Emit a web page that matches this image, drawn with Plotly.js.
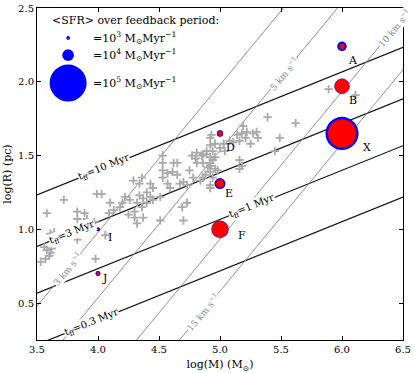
<!DOCTYPE html>
<html>
<head>
<meta charset="utf-8">
<script src="https://cdn.plot.ly/plotly-3.0.1.min.js"></script>
<style>html,body{margin:0;padding:0;background:#fff}#chart{width:415px;height:373px}</style>
</head>
<body>
<div id="chart"></div>
<script>
// clusters: log mass, log radius, SFR sizes (blue = over feedback period, red = other)
const names = ['A', 'B', 'X', 'D', 'E', 'F', 'I', 'J'];
const logM = [6.0, 6.0, 6.0, 5.0, 5.0, 5.0, 4.0, 4.0];
const logR = [2.24, 1.97, 1.65, 1.65, 1.31, 1.0, 1.0, 0.70];
const sfrFeedback = [6600, 12000, 80000, 3000, 8800, 18000, 1200, 1800];
const sfrRed = [2600, 16400, 61000, 2200, 5900, 21000, 460, 1170];
const labelDx = [11, 11, 25, 10, 9, 22, 12, 6];
const labelDy = [-14, -14, -14, -14, -10, -6, -8, -5];

// grey crosses (observed clusters)
const crossLogM = [3.56, 3.58, 3.61, 3.57, 3.60, 3.62, 3.64, 3.61, 3.58, 3.72, 3.83, 3.89, 3.83, 3.91, 3.91,
  3.95, 3.97, 3.99, 4.03, 4.09, 4.13, 4.18, 4.20, 4.22, 4.26, 4.32, 4.25, 4.30, 4.32, 3.83, 3.98, 4.06, 3.53,
  4.92, 4.81, 4.77, 4.85, 4.80, 4.89, 4.94, 4.96, 4.53, 4.62, 4.53, 4.57, 4.61, 4.65, 4.75, 4.78, 4.84, 4.86,
  4.81, 4.86, 4.92, 4.67, 4.70, 4.73, 4.92, 4.36, 4.34, 4.43, 4.45, 4.53, 4.57, 4.59, 4.40, 4.34, 4.37, 4.43,
  4.45, 4.40, 4.36, 4.51, 4.69, 4.73, 4.51, 4.37, 4.30, 5.39, 5.62, 5.49, 5.45, 5.30, 5.27, 5.31, 5.19, 5.22,
  5.18, 5.21, 5.14, 5.16, 5.11, 5.08, 5.25, 4.93, 4.96, 4.92, 4.89, 5.00, 5.04, 5.03, 4.86, 4.92, 5.16, 5.18,
  5.16, 4.94, 4.92, 4.90, 4.96, 4.92, 4.94, 4.88, 4.98, 4.92, 5.89, 6.11, 4.53, 4.65, 4.29, 4.10, 4.70];
const crossLogR = [0.88, 0.86, 0.84, 0.80, 0.82, 0.87, 0.98, 0.97, 1.11, 1.20, 1.12, 1.11, 1.07, 1.07, 1.04,
  1.01, 1.05, 1.24, 1.24, 1.11, 1.13, 1.15, 1.18, 1.22, 1.20, 1.18, 1.10, 1.08, 1.04, 0.93, 0.80, 0.96, 0.78,
  1.62, 1.52, 1.50, 1.50, 1.48, 1.51, 1.53, 1.49, 1.50, 1.45, 1.40, 1.38, 1.39, 1.37, 1.40, 1.35, 1.33, 1.35,
  1.45, 1.45, 1.43, 1.31, 1.32, 1.30, 1.28, 1.35, 1.31, 1.31, 1.28, 1.35, 1.31, 1.28, 1.25, 1.23, 1.21, 1.22,
  1.20, 1.18, 1.15, 1.22, 1.15, 1.18, 1.06, 1.08, 1.12, 1.76, 1.72, 1.62, 1.53, 1.66, 1.65, 1.62, 1.70, 1.66,
  1.65, 1.62, 1.64, 1.60, 1.59, 1.60, 1.58, 1.64, 1.58, 1.57, 1.53, 1.55, 1.53, 1.58, 1.51, 1.49, 1.47, 1.43,
  1.41, 1.47, 1.45, 1.42, 1.41, 1.39, 1.35, 1.37, 1.40, 1.30, 1.95, 1.91, 1.45, 1.45, 1.33, 1.18, 1.06];

// model lines
const tffMyr = [0.3, 1, 3, 10];
const tffLabels = ['0.3', '1', '3', '10'];
const tffLabelLogM = [3.95, 5.26, 3.79, 4.05];
const vKms = [3, 5, 10, 15];
const vLabelLogM = [3.75, 5.52, 6.43, 4.86];

// legend sizes
const legendSfr = [1e3, 1e4, 1e5];
const legendExp = ['3', '4', '5'];

const xr = [3.5, 6.5];
const sizeref = 146;
const serif = 'DejaVu Serif';

function rTff(m, t) { return m / 3 + (2 / 3) * Math.log10(t) - 0.6; }
function rVel(m, v) { return m - 2 * Math.log10(v) - 2.066; }

const traces = [];
const ann = [];

tffMyr.forEach(function (t, i) {
  traces.push({x: xr, y: xr.map(m => rTff(m, t)), mode: 'lines', line: {color: '#111', width: 1.2}, hoverinfo: 'skip'});
  ann.push({x: tffLabelLogM[i], y: rTff(tffLabelLogM[i], t), text: 't<sub>ff</sub>=' + tffLabels[i] + ' Myr',
    xanchor: 'center', yanchor: 'middle', showarrow: false, textangle: -22, bgcolor: 'white', borderpad: 0,
    font: {family: serif, size: 10, color: '#000'}});
});
vKms.forEach(function (v, i) {
  traces.push({x: xr, y: xr.map(m => rVel(m, v)), mode: 'lines', line: {color: '#888', width: 0.9}, hoverinfo: 'skip'});
  ann.push({x: vLabelLogM[i], y: rVel(vLabelLogM[i], v), text: v + ' km s<sup>−1</sup>',
    xanchor: 'center', yanchor: 'middle', showarrow: false, textangle: -50, bgcolor: 'white', borderpad: 0,
    font: {family: serif, size: 9, color: '#888'}});
});

traces.push({x: crossLogM, y: crossLogR, mode: 'markers', hoverinfo: 'skip',
  marker: {symbol: 'cross-thin', size: 6, line: {width: 1.8, color: '#aaaaaa'}}});

traces.push({x: logM, y: logR, mode: 'markers', hoverinfo: 'skip',
  marker: {color: '#0000ff', opacity: 1, size: sfrFeedback, sizemode: 'area', sizeref: sizeref, line: {width: 0}}});
traces.push({x: logM, y: logR, mode: 'markers', hoverinfo: 'skip',
  marker: {color: '#ff0000', opacity: 1, size: sfrRed, sizemode: 'area', sizeref: sizeref, line: {width: 0.5, color: '#0000ff'}}});

names.forEach(function (n, i) {
  ann.push({x: logM[i], y: logR[i], text: n, showarrow: false, xshift: labelDx[i], yshift: labelDy[i],
    font: {family: serif, size: 11, color: '#000'}});
});

// legend block on an overlay axis (0..1)
const legY = [0.91, 0.858, 0.774];
traces.push({x: legendSfr.map(() => 0.085), y: legY, xaxis: 'x2', yaxis: 'y2', mode: 'markers', hoverinfo: 'skip',
  marker: {color: '#0000ff', opacity: 1, size: legendSfr, sizemode: 'area', sizeref: sizeref, line: {width: 0}}});
ann.push({xref: 'x2', yref: 'y2', x: 0.036, y: 0.962, xanchor: 'left', text: '&lt;SFR&gt; over feedback period:',
  showarrow: false, font: {family: serif, size: 11, color: '#000'}});
legendExp.forEach(function (e, i) {
  ann.push({xref: 'x2', yref: 'y2', x: 0.148, y: legY[i], xanchor: 'left', showarrow: false,
    text: '=10<sup>' + e + '</sup> M<sub>⊙</sub>Myr<sup>−1</sup>', font: {family: serif, size: 11, color: '#000'}});
});

const axisBase = {showgrid: false, zeroline: false, showline: true, linecolor: '#000', linewidth: 1,
  mirror: 'ticks', ticks: 'inside', ticklen: 4, tickcolor: '#000', tickformat: '.1f',
  tickfont: {family: serif, size: 10, color: '#000'}};

const layout = {
  width: 415, height: 373,
  margin: {l: 37, r: 12, t: 8, b: 33},
  paper_bgcolor: '#fff', plot_bgcolor: '#fff',
  showlegend: false,
  xaxis: Object.assign({}, axisBase, {range: xr, tick0: 3.5, dtick: 0.5,
    title: {text: 'log(M) (M<sub>⊙</sub>)', standoff: 6, font: {family: serif, size: 11, color: '#000'}}}),
  yaxis: Object.assign({}, axisBase, {range: [0.25, 2.5], tick0: 0.5, dtick: 0.5,
    title: {text: 'log(R) (pc)', standoff: 4, font: {family: serif, size: 11, color: '#000'}}}),
  xaxis2: {overlaying: 'x', range: [0, 1], visible: false},
  yaxis2: {overlaying: 'y', range: [0, 1], visible: false},
  annotations: ann
};

Plotly.newPlot('chart', traces, layout, {staticPlot: true});
</script>
</body>
</html>
